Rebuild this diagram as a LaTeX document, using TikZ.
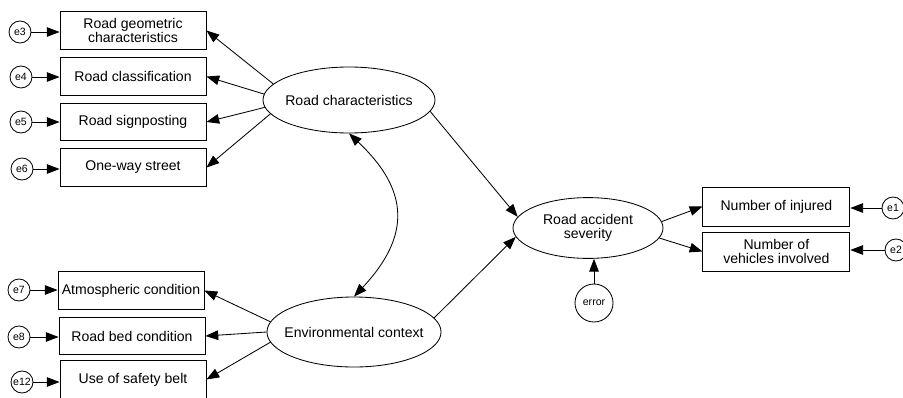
\documentclass[tikz,border=0pt]{standalone}
\usepackage{fontspec}
\setmainfont{Liberation Sans}
\usetikzlibrary{shapes.geometric, arrows.meta}

\tikzset{
  obs/.style={draw, rectangle, line width=0.6pt, minimum width=3.65cm,
    minimum height=0.93cm, align=center, inner sep=1pt,
    font=\fontsize{10}{9.8}\selectfont},
  lat/.style={draw, ellipse, line width=0.6pt, align=center, inner sep=1pt,
    font=\fontsize{10}{9.8}\selectfont},
  res/.style={draw, circle, line width=0.6pt, minimum size=0.55cm,
    inner sep=0pt, font=\fontsize{7.5}{8}\selectfont},
  link/.style={-{Triangle[length=0.32cm, width=0.24cm]}, line width=0.6pt},
  twolink/.style={{Triangle[length=0.32cm, width=0.24cm]}-{Triangle[length=0.32cm, width=0.24cm]}, line width=0.6pt}
}

\begin{document}
\begin{tikzpicture}

  \useasboundingbox (0,0) rectangle (22.575,-9.925);

  % Latent variables
  \node[lat, inner xsep=-0.08cm, minimum width=4.3cm, minimum height=1.65cm] (RC) at (8.725,-2.5) {Road characteristics};
  \node[lat, inner xsep=-0.2cm, minimum width=4.3cm, minimum height=1.75cm] (EC) at (8.85,-8.3) {Environmental context};
  \node[lat, minimum width=3.75cm, minimum height=1.52cm] (RAS) at (14.7,-5.7) {Road accident\\severity};

  % Indicators of road characteristics
  \node[obs] (B1) at (3.325,-0.7625) {Road geometric\\characteristics};
  \node[obs] (B2) at (3.325,-1.9125) {Road classification};
  \node[obs] (B3) at (3.325,-3.05)   {Road signposting};
  \node[obs] (B4) at (3.325,-4.1875) {One-way street};

  % Indicators of environmental context
  \node[obs] (B5) at (3.275,-7.2625) {Atmospheric condition};
  \node[obs] (B6) at (3.3,-8.4)      {Road bed condition};
  \node[obs] (B7) at (3.325,-9.4875) {Use of safety belt};

  % Indicators of severity
  \node[obs, minimum width=3.675cm, minimum height=0.975cm] (N1) at (19.41,-5.1625) {Number of injured};
  \node[obs, minimum width=3.675cm, minimum height=0.975cm] (N2) at (19.41,-6.2875) {Number of\\vehicles involved};

  % Error terms
  \node[res] (e3)  at (0.5,-0.8)    {e3};
  \node[res] (e4)  at (0.525,-1.925) {e4};
  \node[res] (e5)  at (0.525,-3.05) {e5};
  \node[res] (e6)  at (0.55,-4.225) {e6};
  \node[res] (e7)  at (0.475,-7.25) {e7};
  \node[res] (e8)  at (0.475,-8.425) {e8};
  \node[res] (e12) at (0.55,-9.55)  {e12};
  \node[res] (e1)  at (22.325,-5.2) {e1};
  \node[res] (e2)  at (22.4,-6.25)  {e2};
  \node[res, minimum size=0.95cm] (err) at (14.85,-7.575) {error};

  % Error arrows
  \draw[link] (e3) -- (e3 -| B1.west);
  \draw[link] (e4) -- (e4 -| B2.west);
  \draw[link] (e5) -- (e5 -| B3.west);
  \draw[link] (e6) -- (e6 -| B4.west);
  \draw[link] (e7) -- (e7 -| B5.west);
  \draw[link] (e8) -- (e8 -| B6.west);
  \draw[link] (e12) -- (e12 -| B7.west);
  \draw[link] (e1) -- (e1 -| N1.east);
  \draw[link] (e2) -- (e2 -| N2.east);
  \draw[link] (err.north) -- (err.north |- RAS.south);

  % Loadings
  \draw[link] (RC.168) -- (B1.east);
  \draw[link] (RC.176) -- (B2.east);
  \draw[link] (RC.185) -- (B3.east);
  \draw[link] (RC.190) -- (B4.east);

  \draw[link] (EC.173) -- (B5.east);
  \draw[link] (EC.180) -- (B6.east);
  \draw[link] (EC.187) -- (B7.east);

  \draw[link] (RAS.5) -- (N1.west);
  \draw[link] (RAS.-8) -- (N2.west);

  % Structural paths
  \draw[link] (RC.-8) -- (RAS.171);
  \draw[link] (EC.10) -- (RAS.187);

  % Covariance
  \draw[twolink] (RC.south) to[bend left=45, looseness=1.3] (EC.north);

\end{tikzpicture}
\end{document}
